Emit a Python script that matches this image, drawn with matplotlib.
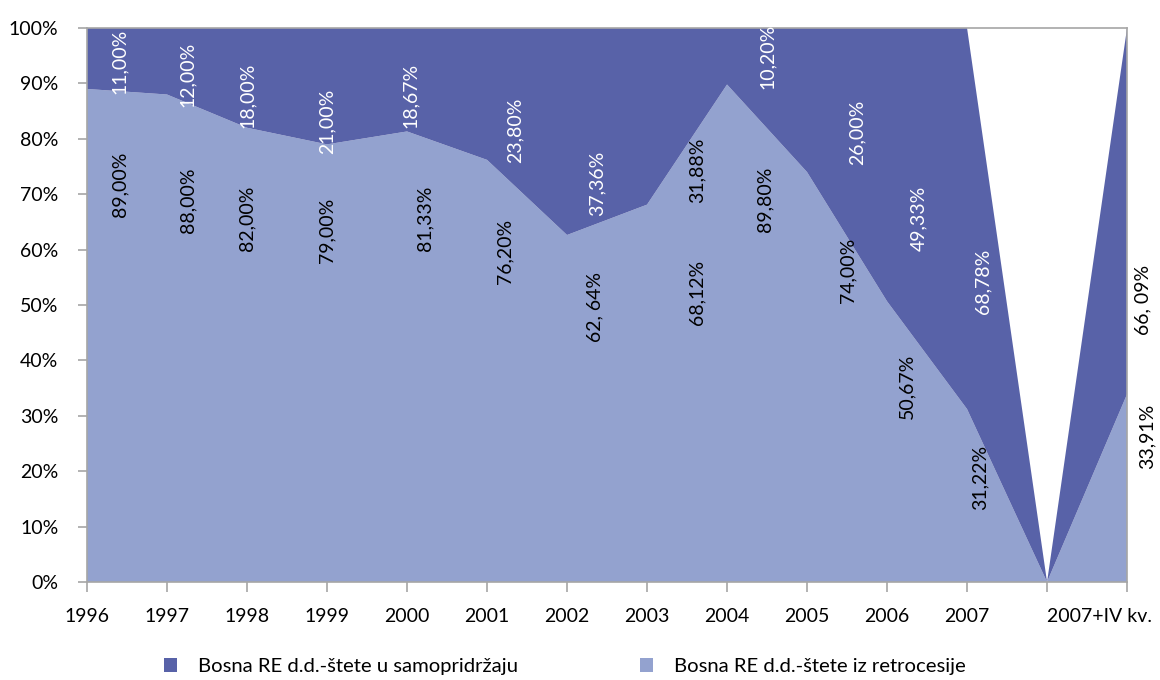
import numpy as np
import matplotlib
matplotlib.use("Agg")
import matplotlib.pyplot as plt
import matplotlib.transforms as mtransforms
from matplotlib.patches import Patch

plt.rcParams['font.family'] = ['Lato', 'DejaVu Sans']

# categories (the 13th slot is an empty gap in the original chart)
categories = ["1996", "1997", "1998", "1999", "2000", "2001", "2002", "2003",
              "2004", "2005", "2006", "2007", "", "2007+IV kv."]

# shares in %
retro = [89.00, 88.00, 82.00, 79.00, 81.33, 76.20, 62.64, 68.12,
         89.80, 74.00, 50.67, 31.22, 0.0, 33.91]
samo = [11.00, 12.00, 18.00, 21.00, 18.67, 23.80, 37.36, 31.88,
        10.20, 26.00, 49.33, 68.78, 0.0, 66.09]

# value labels as printed in the chart
retro_labels = ["89,00%", "88,00%", "82,00%", "79,00%", "81,33%", "76,20%", "62, 64%",
                "68,12%", "89,80%", "74,00%", "50,67%", "31,22%", "33,91%"]
samo_labels = ["11,00%", "12,00%", "18,00%", "21,00%", "18,67%", "23,80%", "37,36%",
               "31,88%", "10,20%", "26,00%", "49,33%", "68,78%", "66, 09%"]

# where the labels sit (x in category units, y in %)
retro_lx = [0.41, 1.26, 2.0, 3.0, 4.225, 5.225, 6.35, 7.625, 8.475, 9.51, 10.25, 11.16, 13.25]
retro_ly = [71.7, 69.0, 65.7, 63.5, 65.7, 59.6, 49.6, 52.3, 69.0, 56.3, 35.4, 18.8, 26.2]
samo_lx = [0.41, 1.26, 2.0, 3.0, 4.04, 5.35, 6.375, 7.625, 8.5, 9.625, 10.39, 11.2, 13.2]
samo_ly = [93.9, 91.7, 87.9, 83.2, 87.9, 81.6, 72.0, 74.4, 94.8, 81.2, 65.7, 54.3, 50.9]
samo_colors = ["white"] * 7 + ["black"] + ["white"] * 4 + ["black"]

dark = "#5862a8"
light = "#93a2cf"

x = np.arange(len(categories))

fig = plt.figure(figsize=(11.6, 6.8), dpi=100)
ax = fig.add_axes([0.075, 0.1441, 0.8966, 0.8147])

ax.stackplot(x, retro, samo, colors=[light, dark], linewidth=0)

for t, lx, ly in zip(retro_labels, retro_lx, retro_ly):
    ax.text(lx, ly, t, rotation=90, ha="center", va="center",
            fontsize=14, color="black", clip_on=False)
for t, lx, ly, c in zip(samo_labels, samo_lx, samo_ly, samo_colors):
    ax.text(lx, ly, t, rotation=90, ha="center", va="center",
            fontsize=14, color=c, clip_on=False)

ax.set_xlim(0, len(categories) - 1)
ax.set_ylim(0, 100)
ax.set_yticks(np.arange(0, 101, 10))
ax.set_yticklabels([f"{v}%" for v in range(0, 101, 10)])
ax.set_xticks(x)
ax.set_xticklabels(categories)

for s in ax.spines.values():
    s.set_color("#a6a6a6")
    s.set_linewidth(1.2)
ax.tick_params(axis="y", length=6.5, width=1.2, color="#a6a6a6", pad=14, labelsize=14)
ax.tick_params(axis="x", length=7, width=1.2, color="#a6a6a6", pad=12, labelsize=14)

# the last label is shifted left in the original
lbl = ax.get_xticklabels()[-1]
lbl.set_transform(lbl.get_transform() + mtransforms.ScaledTranslation(-0.28, 0, fig.dpi_scale_trans))

handles = [Patch(facecolor=dark, label="Bosna RE d.d.-štete u samopridržaju"),
           Patch(facecolor=light, label="Bosna RE d.d.-štete iz retrocesije")]
fig.legend(handles=handles, loc="center", bbox_to_anchor=(0.487, 0.02), ncol=2,
           frameon=False, fontsize=14.6, handlelength=0.65, handleheight=0.65,
           handletextpad=1.05, columnspacing=6.0)

fig.savefig("out.png", dpi=100)
